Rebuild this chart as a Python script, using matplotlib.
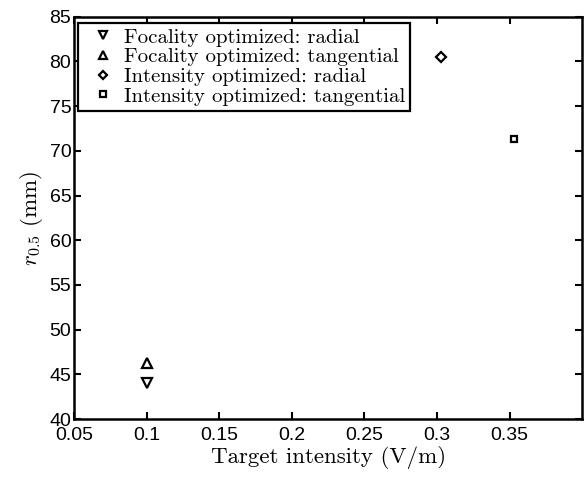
import matplotlib
matplotlib.use("Agg")
import matplotlib.pyplot as plt

# data
series_labels = [
    "Focality optimized: radial",
    "Focality optimized: tangential",
    "Intensity optimized: radial",
    "Intensity optimized: tangential",
]
series_markers = ["v", "^", "D", "s"]
target_intensity = [0.1, 0.1, 0.303, 0.353]
r_half = [44.0, 46.3, 80.5, 71.3]

x_ticks = [0.05, 0.1, 0.15, 0.2, 0.25, 0.3, 0.35]
y_ticks = [40, 45, 50, 55, 60, 65, 70, 75, 80, 85]

plt.rcParams["mathtext.fontset"] = "cm"
plt.rcParams["axes.formatter.use_mathtext"] = True

fig = plt.figure(figsize=(5.88, 4.8), dpi=100)
ax = fig.add_axes([0.126, 0.127, 0.864, 0.838])

sizes = {"v": 6.5, "^": 6.5, "D": 4.8, "s": 4.8}
for xv, yv, mk, lab in zip(target_intensity, r_half, series_markers, series_labels):
    ax.plot([xv], [yv], linestyle="none", marker=mk, markersize=sizes[mk],
            markerfacecolor="white", markeredgecolor="black",
            markeredgewidth=1.6, label=lab)

ax.set_xlim(0.05, 0.4)
ax.set_ylim(40, 85)
ax.set_xticks(x_ticks)
ax.set_xticklabels([f"{t:g}" for t in x_ticks])
ax.set_yticks(y_ticks)
ax.set_yticklabels([str(t) for t in y_ticks])

for spine in ax.spines.values():
    spine.set_linewidth(1.8)
ax.tick_params(direction="in", length=5, width=1.5, top=True, right=True,
               labelsize=14, pad=2)
ax.tick_params(axis="x", pad=6)
for lbl in ax.get_xticklabels() + ax.get_yticklabels():
    lbl.set_family("Liberation Sans")

ax.set_xlabel("Target intensity (V/m)", family="cmr10", fontsize=16.5, labelpad=1)
ax.set_ylabel("$r_{0.5}$ (mm)", family="cmr10", fontsize=16.5, labelpad=3)

leg = ax.legend(loc="upper left", bbox_to_anchor=(0.008, 0.985),
                prop={"family": "cmr10", "size": 15}, frameon=True,
                fancybox=False, framealpha=1, edgecolor="black",
                borderpad=0.25, labelspacing=0.05, handletextpad=0.05,
                handlelength=1.9, borderaxespad=0, markerscale=0.8)
leg.get_frame().set_linewidth(1.6)

fig.savefig("out.png", dpi=100)
